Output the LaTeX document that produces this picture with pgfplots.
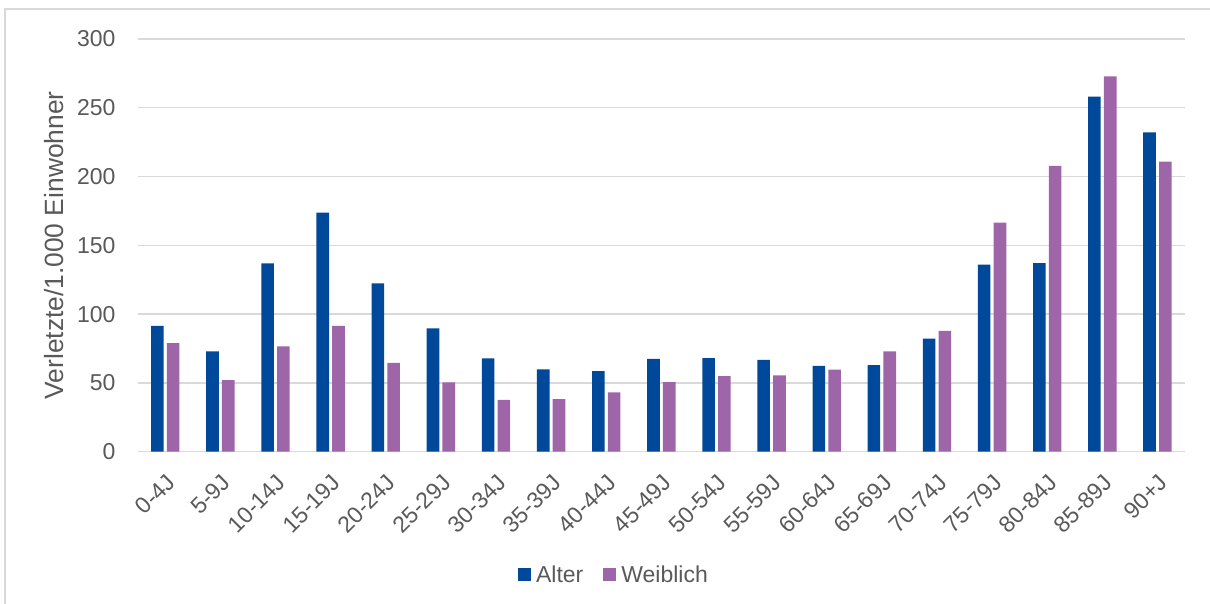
\documentclass[border=0pt]{standalone}
\usepackage{fontspec}
\setmainfont{Liberation Sans}
\usepackage{pgfplots}
\pgfplotsset{compat=1.18}
\usepackage{pgfplotstable}
\definecolor{barblue}{RGB}{0,72,154}
\definecolor{barpurple}{RGB}{158,101,168}
\definecolor{txtgray}{RGB}{89,89,89}
\definecolor{gridgray}{RGB}{217,217,217}
\definecolor{framegray}{RGB}{217,217,217}

\pgfplotstableread{
x alter weiblich
0 91.4 79.0
1 72.9 52.1
2 136.9 76.6
3 173.7 91.4
4 122.4 64.5
5 89.7 50.4
6 67.8 37.6
7 59.9 38.3
8 58.6 43.1
9 67.4 50.6
10 68.1 55.0
11 66.7 55.5
12 62.3 59.6
13 63.0 73.0
14 82.2 87.8
15 136.0 166.5
16 137.0 207.7
17 258.1 272.9
18 232.2 210.8
}\datatable

\begin{document}
\begin{tikzpicture}[x=1pt,y=1pt]
\path[use as bounding box] (0,0) rectangle (1210,604);
\draw[framegray, line width=1.3pt] (5,0) -- (5,595) -- (1210,595);
\begin{axis}[
  at={(137.7pt,152.3pt)}, anchor=south west,
  scale only axis, width=1047.3pt, height=412.7pt,
  xmin=-0.5, xmax=18.5, ymin=0, ymax=300,
  ytick={0,50,...,300},
  xtick={0,...,18},
  xticklabels={0-4J,5-9J,10-14J,15-19J,20-24J,25-29J,30-34J,35-39J,40-44J,45-49J,50-54J,55-59J,60-64J,65-69J,70-74J,75-79J,80-84J,85-89J,90+J},
  ymajorgrids, grid style={gridgray, line width=1.3pt},
  axis line style={draw=none},
  major tick length=0pt,
  tick label style={font=\fontsize{23}{27}\selectfont, text=txtgray},
  /pgf/number format/assume math mode=true,
  yticklabel style={anchor=east, inner sep=0pt, xshift=-22pt},
  xticklabel style={xshift=0pt, yshift=-21pt, rotate=45, anchor=north east, inner sep=0pt},
  ylabel={Verletzte/1.000 Einwohner},
  ylabel style={at={(axis description cs:-0.0713,0.5)}, anchor=base, rotate=0, inner sep=0pt, font=\fontsize{26.4}{31}\selectfont, text=txtgray},
  legend columns=2,
  legend style={at={(axis description cs:0.4538,-0.298)}, anchor=center, draw=none, fill=none, inner sep=0pt, outer sep=0pt,
    font=\fontsize{23}{27}\selectfont, text=txtgray,
    nodes={inner sep=0pt},
    /tikz/every even column/.append style={column sep=20pt}},
  legend image code/.code={\draw[#1, draw=none] (0pt,-6.5pt) rectangle (13pt,6.5pt); \path (18pt,0pt);},
]
\addplot[ybar, bar width=12.6pt, bar shift=-7.9pt, fill=barblue, draw=none] table[x=x, y=alter] {\datatable};
\addlegendentry{Alter}
\addplot[ybar, bar width=12.6pt, bar shift=7.9pt, fill=barpurple, draw=none] table[x=x, y=weiblich] {\datatable};
\addlegendentry{Weiblich}
\end{axis}
\end{tikzpicture}
\end{document}
